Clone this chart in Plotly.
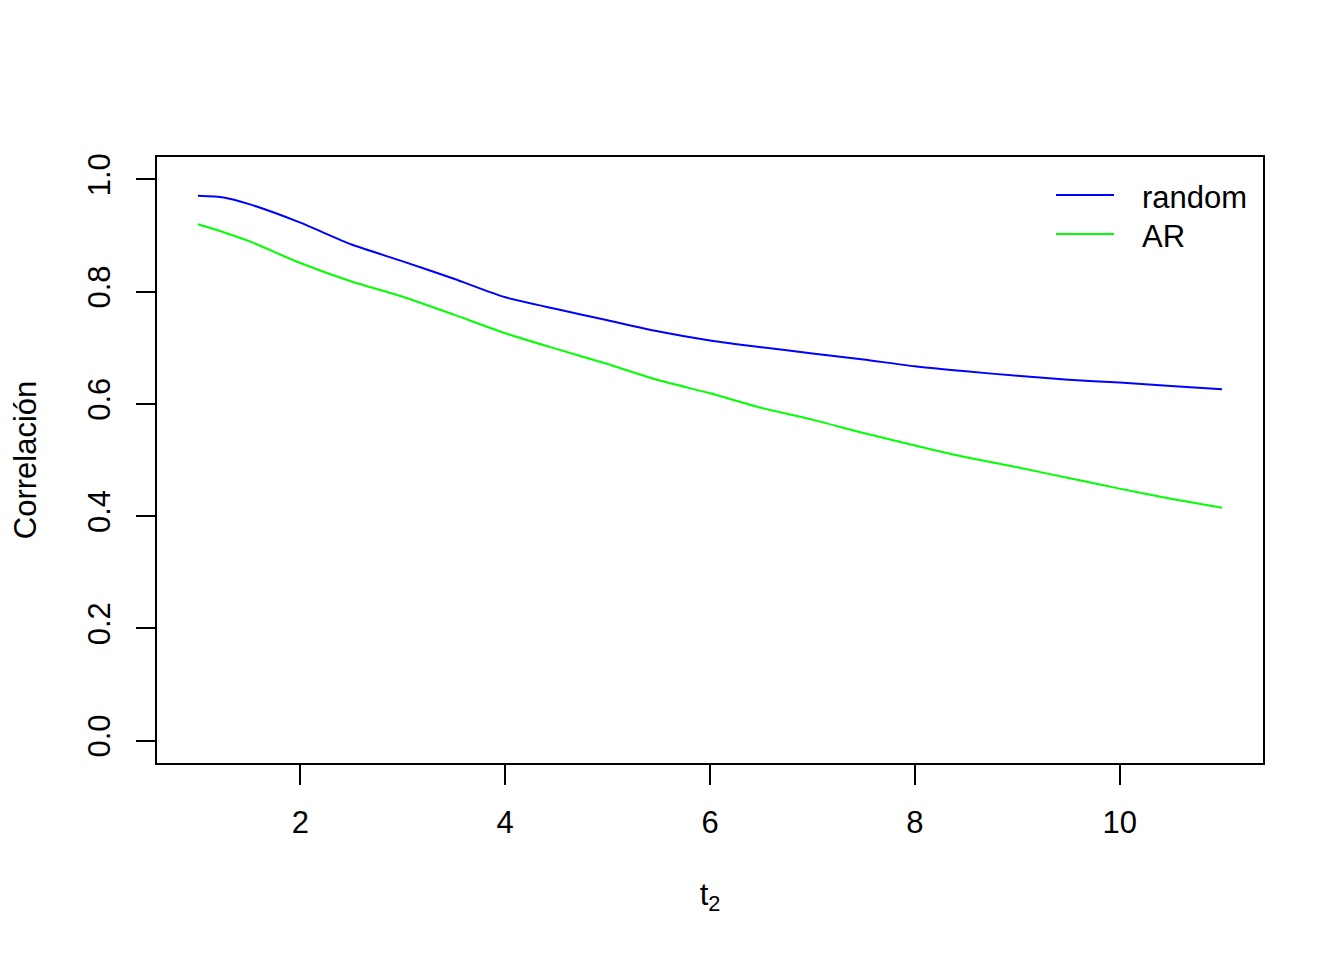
import plotly.graph_objects as go

# Data
t2 = [1, 1.25, 1.5, 2, 2.5, 3, 3.5, 4, 4.5, 5, 5.5, 6, 6.5, 7, 7.5, 8, 8.5, 9,
      9.5, 10, 10.5, 11]
random_corr = [0.971, 0.968, 0.956, 0.923, 0.884, 0.854, 0.823, 0.790, 0.769,
               0.749, 0.729, 0.713, 0.701, 0.690, 0.679, 0.667, 0.658, 0.650,
               0.643, 0.638, 0.632, 0.626]
ar_corr = [0.920, 0.906, 0.890, 0.851, 0.818, 0.791, 0.759, 0.726, 0.698,
           0.671, 0.642, 0.619, 0.593, 0.572, 0.548, 0.526, 0.505, 0.487,
           0.468, 0.449, 0.431, 0.415]
series_names = ["random", "AR"]
series_colors = ["#0000FF", "#00FF00"]
x_ticks = [2, 4, 6, 8, 10]
y_ticks = [0.0, 0.2, 0.4, 0.6, 0.8, 1.0]
y_ticktext = ["0.0", "0.2", "0.4", "0.6", "0.8", "1.0"]

FONT = "Liberation Sans, Arial, sans-serif"
FS = 31

fig = go.Figure()
for name, vals, col in zip(series_names, [random_corr, ar_corr], series_colors):
    fig.add_trace(go.Scatter(x=t2, y=vals, mode="lines", name=name,
                             line=dict(color=col, width=2, shape="spline", smoothing=0.6),
                             showlegend=False))

W, H = 1344, 960
OFF = 8  # page body margin
# target plot area in screen pixels
PX0, PX1, PY0, PY1 = 157, 1263, 157, 763
L = PX0 - OFF
T = PY0 - OFF
R = W - (PX1 - OFF)
B = H - (PY1 - OFF)
pw, ph = PX1 - PX0, PY1 - PY0

def px2paper(px, py):
    return (px - PX0) / pw, (PY1 - py) / ph

# manual legend (R style, no box)
leg_rows = [195, 234]
for name, col, py in zip(series_names, series_colors, leg_rows):
    x0, y0 = px2paper(1056, py)
    x1, _ = px2paper(1114, py)
    fig.add_shape(type="line", xref="paper", yref="paper", x0=x0, x1=x1, y0=y0, y1=y0,
                  line=dict(color=col, width=2))
    tx, ty = px2paper(1140, py + 2)
    fig.add_annotation(xref="paper", yref="paper", x=tx, y=ty, text=name, showarrow=False,
                       xanchor="left", yanchor="middle",
                       font=dict(family=FONT, size=FS, color="black"))

fig.update_layout(
    width=W, height=H,
    margin=dict(l=L, r=R, t=T, b=B),
    paper_bgcolor="white", plot_bgcolor="white",
    font=dict(family=FONT, size=FS, color="black"),
    xaxis=dict(range=[0.6, 11.4], tickvals=x_ticks, ticks="outside", ticklen=20,
               tickwidth=2, tickcolor="black", showline=True, linecolor="black",
               linewidth=2, mirror=True, showgrid=False, zeroline=False,
               ticklabelstandoff=11,
               title=dict(text="t<sub>2</sub>", standoff=44,
                          font=dict(family=FONT, size=FS))),
    yaxis=dict(range=[-0.04, 1.04], tickvals=y_ticks, ticktext=y_ticktext,
               ticks="outside", ticklen=19, tickwidth=2, tickcolor="black",
               showline=True, linecolor="black", linewidth=2, mirror=True,
               showgrid=False, zeroline=False, tickangle=-90,
               ticklabelstandoff=14,
               title=dict(text="Correlación", standoff=38,
                          font=dict(family=FONT, size=FS))),
)

fig.write_html("out.html")
